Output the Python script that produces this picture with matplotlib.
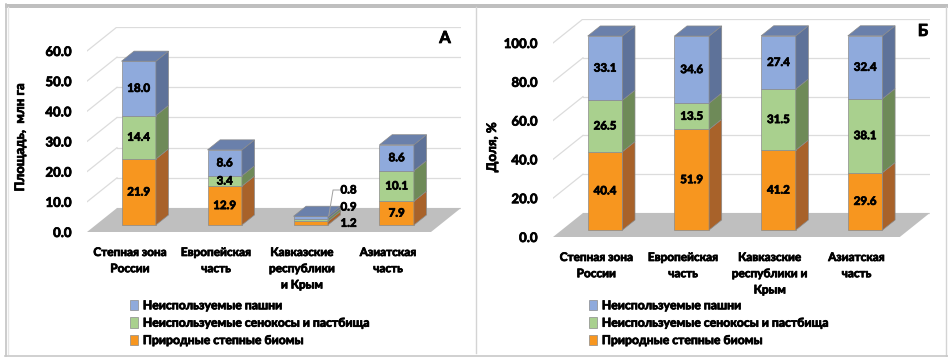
import matplotlib
matplotlib.use("Agg")
import matplotlib.pyplot as plt
import matplotlib.patheffects as pe
from matplotlib.patches import Polygon, Patch, Rectangle
from matplotlib.lines import Line2D

plt.rcParams["font.family"] = ["Lato", "DejaVu Sans"]
WT = "bold"
plt.rcParams["font.weight"] = WT
# a thin outline in the text colour gives the heavy lettering
HEAVY = [pe.withStroke(linewidth=0.55, foreground="black")]

# ---- data -------------------------------------------------------------
categories_a = ["Степная зона\nРоссии", "Европейская\nчасть",
                "Кавказские\nреспублики\nи Крым", "Азиатская\nчасть"]
categories_b = ["Степная зона\nРоссии", "Европейская\nчасть",
                "Кавказские\nреспублики и\nКрым", "Азиатская\nчасть"]
series_names = ["Природные степные биомы",
                "Неиспользуемые сенокосы и пастбища",
                "Неиспользуемые пашни"]

# Panel A: area, mln ha
area_natural = [21.9, 12.9, 1.2, 7.9]
area_hay = [14.4, 3.4, 0.9, 10.1]
area_arable = [18.0, 8.6, 0.8, 8.6]

# Panel B: share, %
share_natural = [40.4, 51.9, 41.2, 29.6]
share_hay = [26.5, 13.5, 31.5, 38.1]
share_arable = [33.1, 34.6, 27.4, 32.4]

ticks_a = [0, 10, 20, 30, 40, 50, 60]
ticks_b = [0, 20, 40, 60, 80, 100]

# ---- styling ------------------------------------------------------------
W, H = 948, 357
FRONT = ["#F7961F", "#A9D08E", "#8FAADC"]
SIDE = ["#A8622A", "#6E8A58", "#5E7299"]
TOP = ["#C07A35", "#86A66E", "#6A80AB"]
EDGE = "#8a8a8a"
GRID = "#dcdcdc"
FLOOR = "#bfbfbf"

fig = plt.figure(figsize=(W / 100, H / 100), dpi=100)
fig.patch.set_facecolor("white")


def fig_line(x0, y0, x1, y1, color, lw):
    fig.add_artist(Line2D([x0 / W, x1 / W], [1 - y0 / H, 1 - y1 / H],
                          transform=fig.transFigure, color=color, lw=lw))


# outer frame and divider
fig.add_artist(Rectangle((5 / W, 1 - 7.5 / H), (W - 5) / W, 3.5 / H,
                         transform=fig.transFigure, color="#bfbfbf", lw=0))
fig_line(5.5, 4, 5.5, 356, "#c4c4c4", 1.2)
fig_line(7.5, 7, 7.5, 354, "#e6e6e6", 1.0)
fig_line(476, 7, 476, 353, "#d4d4d4", 1.0)
fig_line(945.5, 7, 945.5, 356, "#d4d4d4", 1.0)
fig_line(5, 355.5, 948, 355.5, "#c8c8c8", 1.2)

Z0, DEPTH, BAR_W = 0.29, 0.42, 0.40


def panel(left_px, floor_px, unit_x, unit_y, ymax, ticks, cats, stacks,
          ylabel, ylabel_px, letter, letter_px, legend_px,
          outside=None):
    dxc = 30 / unit_x
    dyv = 24 / unit_y
    wpx = (4 + dxc) * unit_x
    hpx = (ymax + dyv) * unit_y
    ax = fig.add_axes([left_px / W, (H - floor_px) / H, wpx / W, hpx / H])
    ax.set_xlim(-0.5, 3.5 + dxc)
    ax.set_ylim(0, ymax + dyv)
    for s in ax.spines.values():
        s.set_visible(False)
    ax.set_xticks([])
    ax.set_yticks(ticks)
    ax.set_yticklabels([f"{t:.1f}" for t in ticks], fontsize=9.5,
                       fontweight=WT)
    for t in ax.get_yticklabels():
        t.set_path_effects(HEAVY)
    ax.tick_params(axis="y", length=0, pad=11)
    ax.patch.set_alpha(0)

    # walls: back and left grid lines
    for t in ticks:
        if t > 0:
            ax.plot([-0.5, -0.5 + dxc], [t, t + dyv], color=GRID, lw=0.9,
                    zorder=0.5)
        ax.plot([-0.5 + dxc, 3.5 + dxc], [t + dyv, t + dyv], color=GRID,
                lw=0.9, zorder=0.5)
    # floor
    ax.add_patch(Polygon([(-0.5, 0), (3.5, 0), (3.5 + dxc, dyv),
                          (-0.5 + dxc, dyv)], closed=True, facecolor=FLOOR,
                         edgecolor="none", zorder=1))

    x_front = [i + Z0 * dxc for i in range(4)]
    cum = [0.0] * 4
    for k, vals in enumerate(stacks):
        ax.bar(x_front, vals, width=BAR_W, bottom=[c + Z0 * dyv for c in cum],
               color=FRONT[k], edgecolor=EDGE, linewidth=0.5, zorder=3)
        for i, v in enumerate(vals):
            xr = x_front[i] + BAR_W / 2
            y0 = cum[i] + Z0 * dyv
            y1 = y0 + v
            ax.add_patch(Polygon([(xr, y0), (xr + DEPTH * dxc, y0 + DEPTH * dyv),
                                  (xr + DEPTH * dxc, y1 + DEPTH * dyv), (xr, y1)],
                                 closed=True, facecolor=SIDE[k], edgecolor=EDGE,
                                 linewidth=0.5, zorder=3))
            if k == len(stacks) - 1:
                xl = x_front[i] - BAR_W / 2
                ax.add_patch(Polygon([(xl, y1), (xr, y1),
                                      (xr + DEPTH * dxc, y1 + DEPTH * dyv),
                                      (xl + DEPTH * dxc, y1 + DEPTH * dyv)],
                                     closed=True, facecolor=TOP[k],
                                     edgecolor=EDGE, linewidth=0.5, zorder=3))
            ymid = y0 + v / 2
            if outside is not None and i == outside:
                off = [0, 13, 27.5][k]
                xs = xr + DEPTH * dxc
                ax.annotate(f"{v:.1f}", xy=(xs, ymid), xytext=(0, off),
                            textcoords="offset pixels", ha="left",
                            va="center", fontsize=8.3, fontweight=WT,
                            zorder=6, path_effects=HEAVY)
                if k == len(stacks) - 1:
                    ylab = ymid + off / unit_y
                    ax.plot([xr + 0.01, xr + 0.06, xs - 0.01],
                            [ymid + 0.5, ylab, ylab], color="#a0a0a0",
                            lw=0.7, zorder=5)
            else:
                ax.text(x_front[i], ymid, f"{v:.1f}", ha="center",
                        va="center", fontsize=8.3, fontweight=WT, zorder=5,
                        path_effects=HEAVY)
        cum = [c + v for c, v in zip(cum, vals)]

    # category labels
    for i, lab in enumerate(cats):
        ax.annotate(lab, xy=(i, 0), xytext=(0, -15),
                    textcoords="offset pixels", ha="center", va="top",
                    fontsize=8.5, fontweight=WT, linespacing=1.58,
                    annotation_clip=False, path_effects=HEAVY)

    fig.text(ylabel_px[0] / W, 1 - ylabel_px[1] / H, ylabel, rotation=90,
             ha="center", va="center", fontsize=9.5, fontweight=WT,
             path_effects=HEAVY)
    fig.text(letter_px[0] / W, 1 - letter_px[1] / H, letter, ha="center",
             va="center", fontsize=12, fontweight=WT, path_effects=HEAVY)

    handles = [Patch(facecolor=FRONT[k], edgecolor=EDGE, linewidth=0.5)
               for k in (2, 1, 0)]
    leg = fig.legend(handles, [series_names[k] for k in (2, 1, 0)],
                     loc="upper left",
                     bbox_to_anchor=(legend_px[0] / W, 1 - legend_px[1] / H),
                     frameon=False, handlelength=0.65,
                     handleheight=0.9, handletextpad=0.4, labelspacing=0.5,
                     borderpad=0, borderaxespad=0,
                     prop={"weight": WT, "size": 8.8})
    for t in leg.get_texts():
        t.set_path_effects(HEAVY)
    return ax


panel(87, 232, 86.0, 3.017, 60, ticks_a, categories_a,
      [area_natural, area_hay, area_arable], "Площадь,  млн га", (20, 137),
      "А", (445, 38), (130, 300), outside=2)

panel(553, 237, 86.7, 1.94, 100, ticks_b, categories_b,
      [share_natural, share_hay, share_arable], "Доля, %", (492, 147),
      "Б", (923, 31), (589, 300))

fig.savefig("out.png", dpi=100)
